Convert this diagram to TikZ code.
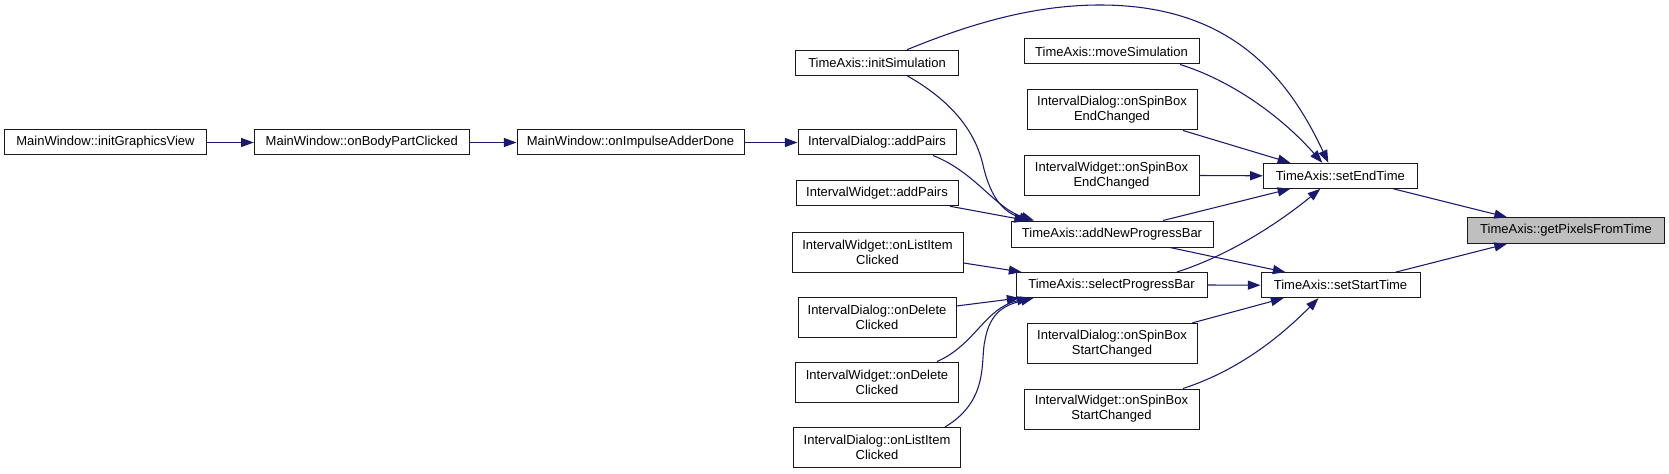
\documentclass[tikz,border=0pt]{standalone}
\usepackage{fontspec}
\setmainfont{Liberation Sans}
\usetikzlibrary{arrows.meta,calc}
\definecolor{edgec}{HTML}{191970}
\definecolor{boxline}{HTML}{1A1A1A}
\definecolor{hilite}{HTML}{BFBFBF}
\begin{document}
\begin{tikzpicture}[x=0.75pt,y=-0.75pt,
  fnbox/.style 2 args={draw=boxline, line width=0.75pt, fill=white,
    minimum width=#1*0.75pt, minimum height=#2*0.75pt,
    inner xsep=1pt, inner ysep=0pt, align=center,
    font=\fontsize{9.75}{11.25}\selectfont},
  call/.style={draw=edgec, line width=0.8pt,
    -{Triangle[length=9.5pt,width=6.8pt]}}]
\useasboundingbox[fill=white] (0,0) rectangle (1669,474);

% column 1-3
\node[fnbox={202}{25}] (igv)  at (105.5,142.5) {MainWindow::initGraphicsView};
\node[fnbox={215}{25}] (obpc) at (361.8,142.5) {MainWindow::onBodyPartClicked};
\node[fnbox={227}{25}] (oiad) at (630.5,142.5) {MainWindow::onImpulseAdderDone};

% column 4
\node[fnbox={162.5}{25}] (initSim) at (877,62.7)  {TimeAxis::initSimulation};
\node[fnbox={158}{25}]   (idAdd)   at (877,142.5) {IntervalDialog::addPairs};
\node[fnbox={162}{25.5}] (iwAdd)   at (877,193)   {IntervalWidget::addPairs};
\node[fnbox={171}{40}]   (iwList)  at (877.5,252) {IntervalWidget::onListItem\\Clicked};
\node[fnbox={158}{40}]   (idDel)   at (877,317)   {IntervalDialog::onDelete\\Clicked};
\node[fnbox={163}{40}]   (iwDel)   at (877,382)   {IntervalWidget::onDelete\\Clicked};
\node[fnbox={167}{40}]   (idList)  at (877,447.5) {IntervalDialog::onListItem\\Clicked};

% column 5
\node[fnbox={175}{25}] (moveSim)     at (1111.5,51.5) {TimeAxis::moveSimulation};
\node[fnbox={170}{40}] (idSpinEnd)   at (1112,110)    {IntervalDialog::onSpinBox\\EndChanged};
\node[fnbox={175}{40}] (iwSpinEnd)   at (1111.5,175.5){IntervalWidget::onSpinBox\\EndChanged};
\node[fnbox={202}{26}] (addNPB)      at (1112,234)    {TimeAxis::addNewProgressBar};
\node[fnbox={191}{25}] (selPB)       at (1111.5,285)  {TimeAxis::selectProgressBar};
\node[fnbox={170}{40}] (idSpinStart) at (1112,343.5)  {IntervalDialog::onSpinBox\\StartChanged};
\node[fnbox={175}{40}] (iwSpinStart) at (1111.5,409)  {IntervalWidget::onSpinBox\\StartChanged};

% column 6-7
\node[fnbox={154}{25}] (setEnd)   at (1340.3,175.8) {TimeAxis::setEndTime};
\node[fnbox={159}{25}] (setStart) at (1340.5,285.2) {TimeAxis::setStartTime};
\node[fnbox={197}{25.6}, fill=hilite] (getPix) at (1566,230.5) {TimeAxis::getPixelsFromTime};

% main chain
\draw[call] (igv.east) -- (obpc.west);
\draw[call] (obpc.east) -- (oiad.west);
\draw[call] (oiad.east) -- (idAdd.west);

% into addNewProgressBar
\draw[call] ($(initSim.south)+(30,0)$) .. controls (950,100) and (975,130) .. (983,165)
  .. controls (991,200) and (1005,213) .. ($(addNPB.north)+(-80,0)$);
\draw[call] ($(idAdd.south)+(56,0)$) .. controls (975,172) and (995,208) .. ($(addNPB.north)+(-78,0)$);
\draw[call] ($(iwAdd.south)+(73,0)$) -- ($(addNPB.north)+(-85,0)$);

% into selectProgressBar
\draw[call] ($(iwList.east)+(0,11)$) -- ($(selPB.north west)+(6,0)$);
\draw[call] ($(idDel.east)+(0,-11)$) -- ($(selPB.south west)+(4,0)$);
\draw[call] ($(iwDel.north)+(60,0)$) .. controls (975,345) and (985,308) .. ($(selPB.south west)+(14,0)$);
\draw[call] ($(idList.north)+(68,0)$) .. controls (990,400) and (980,360) .. (985,340)
  .. controls (990,312) and (1005,305) .. ($(selPB.south west)+(18,0)$);

% into setEndTime
\draw[call] ($(initSim.north)+(30,0)$) .. controls (965,26) and (1030,5) .. (1100,5)
  .. controls (1225,5) and (1285,70) .. ($(setEnd.north)+(-12,0)$);
\draw[call] ($(moveSim.south)+(68.5,0)$) .. controls (1230,80) and (1280,115) .. ($(setEnd.north)+(-18,0)$);
\draw[call] ($(idSpinEnd.south)+(71,0)$) -- ($(setEnd.north)+(-50,0)$);
\draw[call] (iwSpinEnd.east) -- (setEnd.west);
\draw[call] ($(addNPB.north)+(51,0)$) -- ($(setEnd.south)+(-50,0)$);
\draw[call] ($(selPB.north)+(65.5,0)$) .. controls (1230,255) and (1280,222) .. ($(setEnd.south)+(-20,0)$);

% into setStartTime
\draw[call] ($(addNPB.south)+(58,0)$) -- ($(setStart.north)+(-55,0)$);
\draw[call] (selPB.east) -- (setStart.west);
\draw[call] ($(idSpinStart.north)+(80,0)$) -- ($(setStart.south)+(-57,0)$);
\draw[call] ($(iwSpinStart.north)+(71.5,0)$) .. controls (1240,370) and (1282,335) .. ($(setStart.south)+(-22,0)$);

% into getPixelsFromTime
\draw[call] ($(setEnd.south)+(53,0)$) -- ($(getPix.north)+(-59,0)$);
\draw[call] ($(setStart.north)+(55,0)$) -- ($(getPix.south)+(-59,0)$);
\end{tikzpicture}
\end{document}
